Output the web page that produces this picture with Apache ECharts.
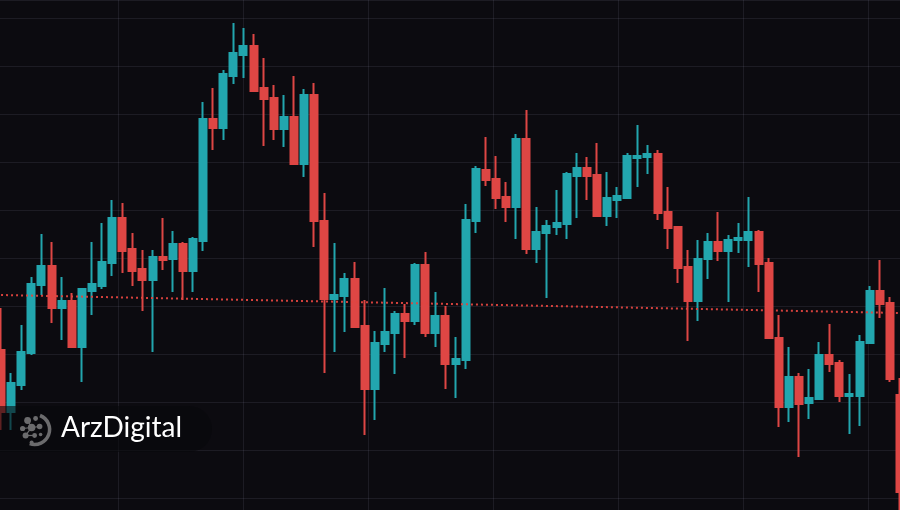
<!DOCTYPE html>
<html>
<head>
<meta charset="utf-8">
<script src="https://cdn.jsdelivr.net/npm/echarts@6/dist/echarts.min.js"></script>
<style>
html,body{margin:0;padding:0;background:#0c0b10;}
#chart{width:900px;height:510px;}
</style>
</head>
<body>
<div id="chart"></div>
<script>
// Candle index labels
const categories = ['01','02','03','04','05','06','07','08','09','10','11','12','13','14','15','16','17','18','19','20','21','22','23','24','25','26','27','28','29','30','31','32','33','34','35','36','37','38','39','40','41','42','43','44','45','46','47','48','49','50','51','52','53','54','55','56','57','58','59','60','61','62','63','64','65','66','67','68','69','70','71','72','73','74','75','76','77','78','79','80','81','82','83','84','85','86','87','88','89','90'];

const opens = [160,98,125,157,225,244,202,209,163,219,
  224,247,292,261,241,230,253,251,266,239,
  269,391,382,434,455,464,422,412,381,393,
  346,415,289,211,214,231,184,121,166,177,
  196,189,245,177,194,146,150,289,340,331,
  313,303,371,261,277,283,286,334,342,335,
  294,310,312,352,353,356,298,283,243,209,
  251,268,259,270,270,278,247,172,103,133,
  107,111,155,147,114,114,167,219,207,115];

const closes = [98,127,158,226,244,202,209,163,221,226,
  248,292,259,239,230,253,250,266,239,271,
  391,382,436,457,464,419,411,381,393,346,
  415,289,211,215,231,183,121,167,178,196,
  189,245,177,194,146,151,290,341,330,312,
  303,371,261,278,284,287,336,342,334,294,
  312,314,354,354,356,297,282,242,209,251,
  268,259,270,272,278,246,172,103,133,106,
  112,155,146,114,116,168,219,206,131,18];

const lows = [80,80,120,155,215,187,170,162,128,195,
  221,234,237,224,199,158,240,218,210,218,
  259,360,370,426,432,418,364,370,363,346,
  333,263,137,158,178,182,75,90,158,136,
  152,185,173,163,121,112,141,277,324,301,
  288,271,256,247,212,275,271,292,310,293,
  284,292,312,323,336,290,261,227,169,189,
  231,249,208,257,243,218,171,83,88,53,
  91,111,138,108,76,84,167,192,128,0];

const highs = [202,137,185,233,276,268,233,217,222,268,
  287,310,307,277,260,260,292,279,268,273,
  408,422,440,487,482,476,452,425,415,434,
  421,427,317,267,237,248,210,179,222,199,
  206,247,258,218,204,173,306,344,373,354,
  328,376,400,303,290,320,338,357,353,367,
  338,323,357,385,365,360,323,283,260,270,
  277,298,275,287,313,280,252,195,163,137,
  141,168,186,150,136,175,224,250,213,132];

// dotted price line: level at first and last candle
const priceLine = [215, 197];

const brandText = 'ArzDigital';

const UP = '#22a6ae';
const DOWN = '#de4644';

const ohlc = opens.map((o, i) => [o, closes[i], lows[i], highs[i]]);

const chart = echarts.init(document.getElementById('chart'), null, {renderer: 'canvas'});

const gridLine = 'rgba(150,150,175,0.13)';

chart.setOption({
  backgroundColor: '#0c0b10',
  animation: false,
  grid: [
    {left: -4, width: 909, top: 0, bottom: 12, outerBoundsMode: 'none', containLabel: false},
    {left: -7, right: 0, top: 0, bottom: 0, outerBoundsMode: 'none', containLabel: false}
  ],
  xAxis: [
    {
      type: 'category', data: categories, boundaryGap: true, gridIndex: 0,
      axisLine: {show: false}, axisTick: {show: false}, axisLabel: {show: false},
      splitLine: {show: false}
    },
    {
      type: 'value', gridIndex: 1, min: 0, max: 907, interval: 125,
      axisLine: {show: false}, axisTick: {show: false}, axisLabel: {show: false},
      splitLine: {show: true, lineStyle: {color: gridLine, width: 1}}
    }
  ],
  yAxis: [
    {
      type: 'value', gridIndex: 0, min: 12, max: 510, interval: 48,
      axisLine: {show: false}, axisTick: {show: false}, axisLabel: {show: false},
      splitLine: {show: true, lineStyle: {color: gridLine, width: 1}}
    },
    {
      type: 'value', gridIndex: 1, min: 0, max: 1, show: false,
      splitLine: {show: false}
    }
  ],
  series: [
    {
      type: 'candlestick',
      xAxisIndex: 0, yAxisIndex: 0,
      data: ohlc,
      barWidth: 7.5,
      clip: false,
      itemStyle: {
        color: UP, color0: DOWN,
        borderColor: UP, borderColor0: DOWN,
        borderWidth: 2
      },
      markLine: {
        silent: true,
        symbol: ['none', 'none'],
        label: {show: false},
        lineStyle: {type: [2, 3], color: '#e0443f', width: 2, opacity: 0.95},
        data: [[
          {coord: [categories[0], priceLine[0]]},
          {coord: [categories[categories.length - 1], priceLine[1]]}
        ]]
      }
    }
  ],
  graphic: [
    {
      type: 'rect', left: -20, top: 406, z: 50,
      shape: {width: 232, height: 46, r: [0, 23, 23, 0]},
      style: {fill: 'rgba(8,8,12,0.6)'}
    },
    {
      type: 'group', left: 20, top: 413, z: 60,
      children: [
        {type: 'arc', shape: {cx: 17, cy: 17, r: 15, startAngle: -1.2, endAngle: 1.9}, style: {stroke: '#ffffff', lineWidth: 3.5, fill: null}},
        {type: 'circle', shape: {cx: 10, cy: 8, r: 3.4}, style: {fill: '#ffffff'}},
        {type: 'circle', shape: {cx: 18, cy: 6, r: 2.4}, style: {fill: '#ffffff'}},
        {type: 'circle', shape: {cx: 5, cy: 16, r: 2.6}, style: {fill: '#ffffff'}},
        {type: 'circle', shape: {cx: 14, cy: 15, r: 3.8}, style: {fill: '#ffffff'}},
        {type: 'circle', shape: {cx: 22, cy: 14, r: 2.8}, style: {fill: '#ffffff'}},
        {type: 'circle', shape: {cx: 8, cy: 23, r: 3}, style: {fill: '#ffffff'}},
        {type: 'circle', shape: {cx: 17, cy: 23, r: 2.4}, style: {fill: '#ffffff'}},
        {type: 'circle', shape: {cx: 14, cy: 30, r: 2}, style: {fill: '#ffffff'}},
        {type: 'circle', shape: {cx: 23, cy: 22, r: 1.8}, style: {fill: '#ffffff'}},
        {type: 'line', shape: {x1: 10, y1: 8, x2: 14, y2: 15}, style: {stroke: '#ffffff', lineWidth: 1.2}},
        {type: 'line', shape: {x1: 14, y1: 15, x2: 22, y2: 14}, style: {stroke: '#ffffff', lineWidth: 1.2}},
        {type: 'line', shape: {x1: 14, y1: 15, x2: 8, y2: 23}, style: {stroke: '#ffffff', lineWidth: 1.2}},
        {type: 'line', shape: {x1: 8, y1: 23, x2: 17, y2: 23}, style: {stroke: '#ffffff', lineWidth: 1.2}},
        {type: 'line', shape: {x1: 5, y1: 16, x2: 14, y2: 15}, style: {stroke: '#ffffff', lineWidth: 1.2}}
      ]
    },
    {
      type: 'text', left: 61, top: 414, z: 60,
      style: {text: brandText, fill: '#ffffff', font: '400 28px "Lato", "Open Sans", sans-serif'}
    }
  ]
});
</script>
</body>
</html>
